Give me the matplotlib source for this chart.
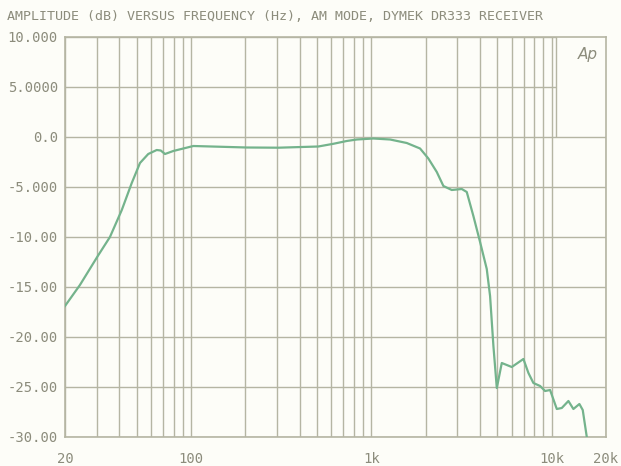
import numpy as np
import matplotlib.pyplot as plt
from matplotlib.patches import Rectangle
from matplotlib.ticker import FixedLocator, NullFormatter

# response
freq_hz = [20, 24.2, 30.4, 35.5, 41.3, 46.9, 52.1, 57.9, 64.5, 67.9, 71.7, 79.7,
           103, 204, 305, 508, 615, 730, 830, 1026, 1270, 1571, 1862, 2070,
           2305, 2508, 2791, 3171, 3380, 3678, 4006, 4363, 4552, 4750, 4960,
           5286, 6004, 6966, 7428, 7914, 8622, 9190, 9795, 10670, 11370, 12375,
           13190, 14240, 14860, 15650]
level_db = [-16.9, -14.8, -11.9, -10.0, -7.3, -4.6, -2.6, -1.7, -1.3, -1.35, -1.7, -1.4,
            -0.9, -1.05, -1.07, -0.95, -0.68, -0.4, -0.25, -0.15, -0.25, -0.6, -1.15, -2.15,
            -3.5, -4.9, -5.3, -5.2, -5.5, -7.9, -10.5, -13.2, -15.9, -20.9, -25.1,
            -22.6, -23.0, -22.2, -23.6, -24.6, -24.9, -25.4, -25.3, -27.2, -27.1, -26.4,
            -27.2, -26.7, -27.3, -30.0]

y_ticks = [10, 5, 0, -5, -10, -15, -20, -25, -30]
y_labels = ["10.000", "5.0000", "0.0", "-5.000", "-10.00", "-15.00", "-20.00", "-25.00", "-30.00"]
x_ticks = [20, 100, 1000, 10000, 20000]
x_labels = ["20", "100", "1k", "10k", "20k"]
title = "AMPLITUDE (dB) VERSUS FREQUENCY (Hz), AM MODE, DYMEK DR333 RECEIVER"

bg = "#fdfdf8"
grid_c = "#b5b5a3"
text_c = "#8c8c7c"
line_c = "#74b38c"

fig = plt.figure(figsize=(6.21, 4.66), dpi=100, facecolor=bg)
ax = fig.add_axes([65 / 621, 1 - 437 / 466, 541 / 621, 400 / 466])
ax.set_facecolor(bg)
ax.set_xscale("log")
ax.set_xlim(20, 20000)
ax.set_ylim(-30, 10)

# grid lines at every 1-2-3...9 step of each decade
vlines = [m * 10 ** d for d in range(1, 5) for m in range(1, 10)]
vlines = [v for v in vlines if 20 <= v <= 20000]
for v in vlines:
    ax.axvline(v, color=grid_c, lw=1.0, zorder=1)
for y in y_ticks:
    ax.axhline(y, color=grid_c, lw=1.0, zorder=1)

ax.plot(freq_hz, level_db, color=line_c, lw=1.6, zorder=3)

# "Ap" logo box in the top right corner
ax.add_patch(Rectangle((10600, 0.1), 20000 - 10600, 9.9, facecolor=bg,
                       edgecolor="none", zorder=2))
ax.plot([10600, 10600], [0.1, 10], color=grid_c, lw=1.0, zorder=2)
ax.text(0.985, 0.955, "Ap", transform=ax.transAxes, ha="right", va="center",
        fontsize=11, style="italic", color=text_c, family="DejaVu Sans", zorder=4)

ax.xaxis.set_major_locator(FixedLocator(x_ticks))
ax.xaxis.set_minor_formatter(NullFormatter())
ax.xaxis.set_minor_locator(FixedLocator([]))
ax.set_xticklabels(x_labels)
ax.set_yticks(y_ticks)
ax.set_yticklabels(y_labels)
ax.tick_params(length=0, colors=text_c, labelsize=10)
ax.tick_params(axis="y", pad=5)
ax.tick_params(axis="x", pad=11)
for lbl in ax.get_xticklabels() + ax.get_yticklabels():
    lbl.set_family("DejaVu Sans Mono")
for s in ax.spines.values():
    s.set_color(grid_c)
    s.set_linewidth(1.2)

fig.text(7 / 621, 1 - 17 / 466, title, ha="left", va="center", color=text_c,
         fontsize=9.6, family="DejaVu Sans Mono")

fig.savefig("out.png", dpi=100, facecolor=bg)
